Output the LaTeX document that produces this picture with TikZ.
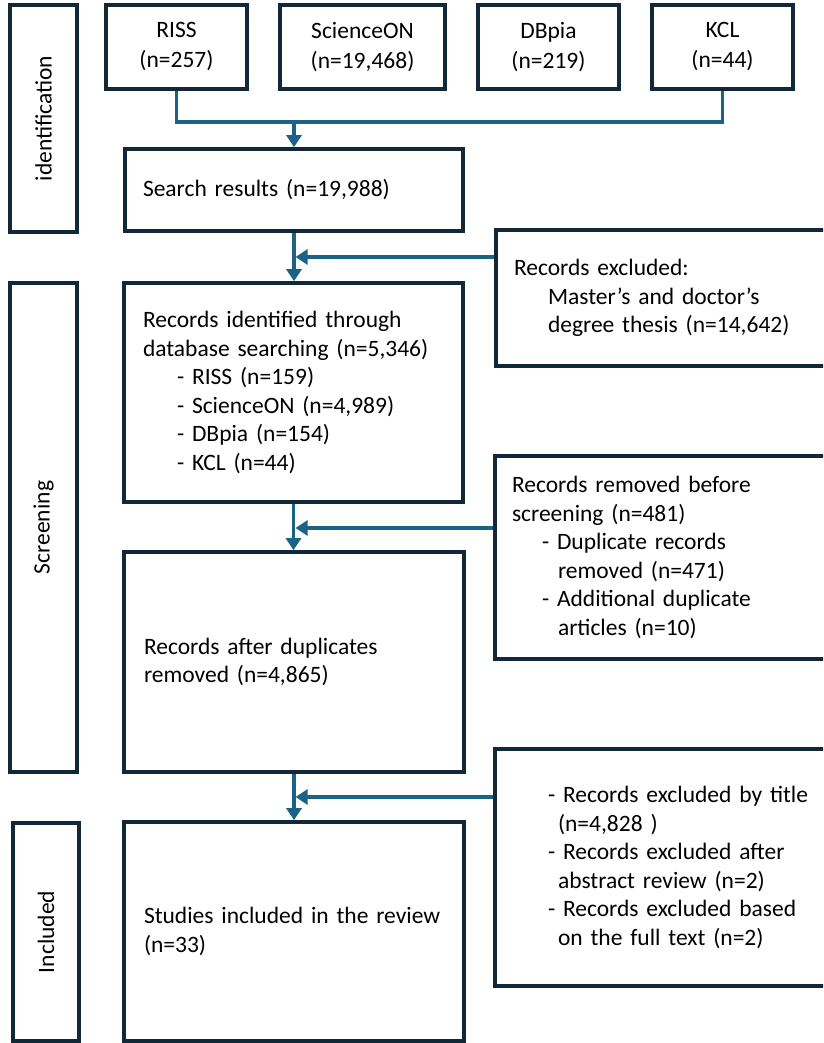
\documentclass[tikz,border=0pt]{standalone}
\usepackage{fontspec}
\setmainfont{Carlito}
\usetikzlibrary{arrows.meta}
\definecolor{boxc}{RGB}{16,40,56}
\definecolor{linec}{RGB}{27,98,135}
\tikzset{
  box/.style={draw=boxc, line width=3.6pt, inner sep=0pt, fill=white},
  lbl/.style={font=\fontsize{23.5}{28.5}\selectfont, align=left},
  toplbl/.style={font=\fontsize{23.5}{30}\selectfont, align=center},
  conn/.style={draw=linec, line width=3.2pt},
  arr/.style={conn, -{Triangle[width=15pt,length=12pt]}},
}
\begin{document}
\begin{tikzpicture}[x=1pt,y=-1pt]
\useasboundingbox (0,0) rectangle (823,1043);
\clip (0,0) rectangle (823,1043);
\fill[white] (0,0) rectangle (823,1043);

% stage labels
\node[box, lbl, rotate=90, minimum width=227pt, minimum height=67pt] (idlab) at (43.5,118.5) {identification};
\node[box, lbl, rotate=90, minimum width=489pt, minimum height=67pt] (scrlab) at (43.5,527.5) {Screening};
\node[box, lbl, rotate=90, minimum width=218pt, minimum height=66pt] (inclab) at (46,932) {Included};

% databases
\node[box, toplbl, minimum width=141pt, minimum height=84pt] (riss) at (176.5,47) {RISS\\(n=257)};
\node[box, toplbl, minimum width=165pt, minimum height=84pt] (sci) at (362.5,47) {ScienceON\\(n=19,468)};
\node[box, toplbl, minimum width=141pt, minimum height=84pt] (dbpia) at (548.5,47) {DBpia\\(n=219)};
\node[box, toplbl, minimum width=141pt, minimum height=84pt] (kcl) at (722.5,47) {KCL\\(n=44)};

% main column
\node[box, lbl, minimum width=338pt, minimum height=82pt, text width=302pt] (search) at (294,190) {Search results (n=19,988)};
\node[box, lbl, minimum width=339pt, minimum height=219pt, text width=301pt] (ident) at (293.5,392.5)
  {Records identified through\\database searching (n=5,346)\\\hspace*{34pt}- RISS (n=159)\\\hspace*{34pt}- ScienceON (n=4,989)\\\hspace*{34pt}- DBpia (n=154)\\\hspace*{34pt}- KCL (n=44)};
\node[box, lbl, minimum width=340pt, minimum height=220pt, text width=300pt] (after) at (294,662)
  {Records after duplicates\\removed (n=4,865)};
\node[box, lbl, minimum width=340pt, minimum height=219pt, text width=300pt] (studies) at (294,931.5)
  {Studies included in the review\\(n=33)};

% side boxes
\node[box, lbl, minimum width=404pt, minimum height=136pt, text width=368pt] (excl1) at (698,298)
  {Records excluded:\\\hspace*{34pt}Master’s and doctor’s\\\hspace*{34pt}degree thesis (n=14,642)};
\node[box, lbl, minimum width=405pt, minimum height=203pt, text width=371pt] (removed) at (697.5,557.5)
  {Records removed before\\screening (n=481)\\\hspace*{30pt}- Duplicate records\\\hspace*{46pt}removed (n=471)\\\hspace*{30pt}- Additional duplicate\\\hspace*{46pt}articles (n=10)};
\node[box, lbl, minimum width=405pt, minimum height=237pt, text width=299pt] (excl3) at (697.5,867.5)
  {- Records excluded by title\\\hspace*{10pt}(n=4,828 )\\- Records excluded after\\\hspace*{10pt}abstract review (n=2)\\- Records excluded based\\\hspace*{10pt}on the full text (n=2)};

% connectors
\coordinate (bus) at (294,122);
\draw[conn] (riss.south) |- (bus) -| (kcl.south);
\draw[arr] (bus) -- (search.north);

\coordinate (j1) at (295.6,257);
\draw[arr] (search.south) -- (search.south |- ident.north);
\draw[arr] (excl1.west |- j1) -- (j1);

\coordinate (j2) at (295.6,528);
\draw[arr] (ident.south) -- (ident.south |- after.north);
\draw[arr] (removed.west |- j2) -- (j2);

\coordinate (j3) at (295.6,797);
\draw[arr] (after.south) -- (after.south |- studies.north);
\draw[arr] (excl3.west |- j3) -- (j3);
\end{tikzpicture}
\end{document}
